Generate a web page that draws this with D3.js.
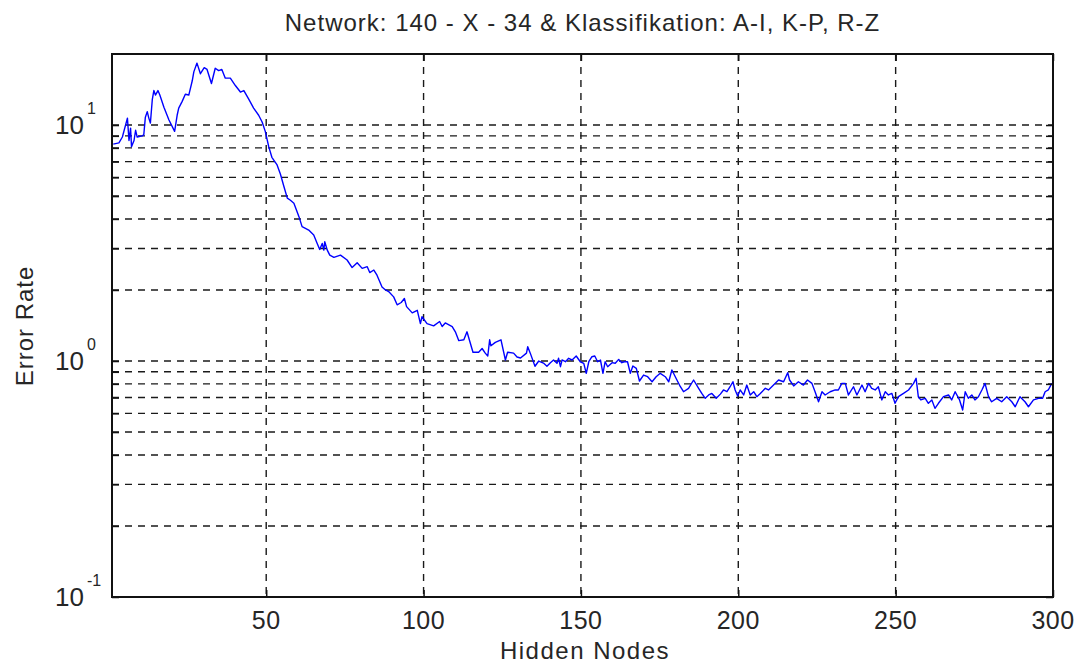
<!DOCTYPE html>
<html>
<head>
<meta charset="utf-8">
<script src="https://d3js.org/d3.v7.min.js"></script>
<style>
  html, body { margin: 0; padding: 0; background: #fff; }
  svg { display: block; }
  text { font-family: "Liberation Sans", Arial, sans-serif; fill: #262626; }
</style>
</head>
<body>
<svg id="chart" width="1078" height="665"></svg>
<script>
const titleText = "Network: 140 - X - 34 & Klassifikation: A-I, K-P, R-Z";
const xLabel = "Hidden Nodes";
const yLabel = "Error Rate";
const xTicks = [50, 100, 150, 200, 250, 300];
const xGrid = [50, 100, 150, 200, 250];
const yMajor = [0.1, 1, 10];
const yMajorExp = ["-1", "0", "1"];
const yMinor = [0.2, 0.3, 0.4, 0.5, 0.6, 0.7, 0.8, 0.9, 2, 3, 4, 5, 6, 7, 8, 9];

const nodes = [
  1.4, 3.2, 4.3, 5.9, 6.4, 6.9, 7.2, 8.0, 8.5, 9.0, 10.6, 11.1, 11.6, 12.2, 12.7, 13.2, 13.8, 14.3, 14.8, 15.6,
  16.2, 17.5, 19.1, 20.9, 21.7, 22.2, 23.3, 24.3, 25.4, 26.5, 27.0, 28.0, 29.1, 30.3, 31.2, 32.6, 33.8, 34.9, 35.9, 37.0,
  38.6, 40.2, 41.8, 42.9, 44.4, 46.0, 47.6, 48.7, 49.7, 50.8, 51.8, 53.4, 54.5, 55.6, 56.7, 57.7, 58.8, 60.4, 61.4, 63.5,
  65.1, 66.2, 67.0, 67.8, 68.3, 68.6, 69.4, 70.2, 71.5, 73.6, 75.7, 77.3, 78.9, 80.5, 82.1, 82.9, 84.2, 85.2, 86.8, 87.9,
  88.9, 90.5, 91.6, 92.9, 93.9, 94.6, 96.4, 98.0, 99.0, 99.5, 101.1, 103.2, 105.1, 105.9, 106.9, 109.1, 110.1, 111.2, 112.8, 113.8,
  114.7, 115.7, 117.5, 118.6, 119.6, 120.4, 121.0, 121.4, 122.8, 124.6, 126.0, 126.7, 128.6, 129.7, 130.8, 132.7, 133.1, 133.9, 135.4, 136.6,
  138.1, 139.2, 140.3, 141.3, 142.4, 142.9, 143.5, 144.0, 145.1, 146.1, 147.2, 148.5, 149.8, 150.9, 151.7, 152.5, 153.5, 154.4, 155.3, 156.2,
  157.0, 157.7, 158.5, 159.9, 160.9, 162.0, 163.0, 163.8, 164.8, 165.7, 166.5, 167.6, 168.6, 169.9, 171.2, 172.6, 173.9, 175.2, 176.8, 177.9,
  178.9, 180.5, 181.6, 182.6, 184.2, 185.8, 187.4, 188.4, 189.5, 190.6, 191.6, 193.0, 194.3, 195.3, 196.4, 197.4, 198.3, 199.0, 199.8, 200.6,
  201.7, 202.7, 203.8, 204.9, 205.9, 207.0, 208.6, 209.6, 211.2, 212.8, 214.4, 215.7, 216.3, 217.6, 219.1, 220.7, 222.0, 223.4, 224.4, 225.5,
  226.6, 227.6, 229.2, 230.8, 231.8, 232.9, 234.0, 235.0, 236.6, 237.7, 239.3, 240.3, 241.4, 242.4, 243.5, 244.5, 245.6, 246.7, 247.7, 248.8,
  249.8, 250.9, 252.5, 254.1, 255.7, 256.5, 257.2, 258.0, 259.4, 260.4, 261.5, 262.5, 263.6, 265.2, 266.8, 267.8, 268.9, 270.3, 271.3, 272.1,
  273.1, 274.2, 275.2, 276.3, 277.4, 278.4, 279.5, 280.5, 282.1, 283.7, 285.3, 286.9, 288.0, 289.5, 291.1, 292.2, 293.8, 295.4, 296.7, 297.5,
  298.5, 299.6
];
const errorRate = [
  8.3, 8.4, 8.9, 10.7, 8.6, 9.7, 8.1, 8.6, 9.5, 8.9, 9.0, 9.1, 10.8, 11.4, 10.7, 10.2, 12.8, 14.0, 13.4, 14.0,
  13.4, 11.9, 10.5, 9.4, 11.0, 11.8, 12.6, 13.5, 13.4, 15.4, 16.8, 18.3, 16.5, 17.5, 17.2, 15.0, 17.4, 17.0, 17.2, 15.8,
  15.8, 14.7, 13.8, 14.0, 12.9, 11.8, 11.0, 10.3, 9.4, 8.1, 7.3, 6.8, 6.2, 5.5, 4.9, 4.8, 4.66, 4.09, 3.71, 3.59,
  3.42, 3.15, 2.97, 3.15, 2.95, 3.20, 2.95, 2.81, 2.75, 2.81, 2.68, 2.49, 2.61, 2.47, 2.51, 2.37, 2.43, 2.31, 2.06, 2.00,
  1.97, 1.87, 1.73, 1.77, 1.84, 1.70, 1.60, 1.64, 1.44, 1.54, 1.44, 1.41, 1.47, 1.40, 1.45, 1.40, 1.33, 1.22, 1.23, 1.33,
  1.21, 1.09, 1.09, 1.13, 1.08, 1.05, 1.23, 1.16, 1.20, 1.23, 1.01, 1.09, 1.08, 1.04, 1.03, 1.08, 1.15, 1.08, 0.95, 1.00,
  0.98, 0.95, 0.984, 1.010, 0.978, 1.027, 0.946, 1.010, 0.993, 1.027, 1.010, 1.050, 0.993, 0.978, 0.887, 0.993, 1.043, 1.050, 0.993, 1.010,
  0.887, 0.993, 0.946, 0.984, 0.978, 1.016, 0.984, 0.993, 0.993, 0.887, 0.953, 0.931, 0.823, 0.872, 0.858, 0.817, 0.858, 0.887, 0.858, 0.817,
  0.916, 0.831, 0.778, 0.741, 0.766, 0.831, 0.766, 0.729, 0.695, 0.718, 0.729, 0.695, 0.724, 0.754, 0.741, 0.778, 0.817, 0.754, 0.711, 0.754,
  0.718, 0.791, 0.718, 0.741, 0.706, 0.729, 0.766, 0.754, 0.791, 0.831, 0.817, 0.892, 0.831, 0.784, 0.817, 0.791, 0.831, 0.804, 0.741, 0.672,
  0.741, 0.718, 0.741, 0.754, 0.754, 0.804, 0.804, 0.718, 0.778, 0.718, 0.791, 0.741, 0.804, 0.766, 0.754, 0.778, 0.684, 0.741, 0.718, 0.729,
  0.662, 0.706, 0.729, 0.754, 0.804, 0.845, 0.706, 0.684, 0.695, 0.662, 0.684, 0.630, 0.662, 0.706, 0.718, 0.684, 0.741, 0.684, 0.620, 0.741,
  0.695, 0.718, 0.684, 0.706, 0.754, 0.804, 0.706, 0.672, 0.695, 0.672, 0.706, 0.672, 0.640, 0.706, 0.672, 0.640, 0.684, 0.695, 0.695, 0.741,
  0.754, 0.804
];

const W = 1078, H = 665;
const m = { left: 112, right: 1053, top: 54, bottom: 597 };

const svg = d3.select("#chart");
svg.append("rect").attr("width", W).attr("height", H).attr("fill", "#fff");

const x = d3.scaleLinear().domain([1, 300]).range([m.left, m.right]);
const y = d3.scaleLog().domain([0.1, 20]).range([m.bottom, m.top]);

const gridStyle = sel => sel.attr("stroke", "#1a1a1a").attr("stroke-width", 1.4).attr("stroke-dasharray", "7,6");

// vertical grid
svg.append("g").selectAll("line").data(xGrid).join("line")
  .attr("x1", d => x(d)).attr("x2", d => x(d))
  .attr("y1", m.top).attr("y2", m.bottom)
  .call(gridStyle);

// horizontal grid (major + minor)
svg.append("g").selectAll("line").data(yMajor.filter(d => d > 0.1).concat(yMinor)).join("line")
  .attr("x1", m.left).attr("x2", m.right)
  .attr("y1", d => y(d)).attr("y2", d => y(d))
  .call(gridStyle);

// data line
const line = d3.line().x((d, i) => x(nodes[i])).y(d => y(d));
svg.append("path").datum(errorRate)
  .attr("d", line)
  .attr("fill", "none")
  .attr("stroke", "#0000ff")
  .attr("stroke-width", 1.4)
  .attr("stroke-linejoin", "round");

// axes (ticks inside) via d3 axes
const tickLen = 7;
svg.append("g").attr("transform", `translate(0,${m.bottom})`)
  .call(d3.axisTop(x).tickValues(xTicks).tickSize(tickLen).tickFormat(""))
  .call(g => g.select(".domain").remove());
svg.append("g").attr("transform", `translate(0,${m.top})`)
  .call(d3.axisBottom(x).tickValues(xTicks).tickSize(tickLen).tickFormat(""))
  .call(g => g.select(".domain").remove());
svg.append("g").attr("transform", `translate(${m.left},0)`)
  .call(d3.axisRight(y).tickValues(yMajor.concat(yMinor)).tickSize(tickLen).tickFormat(""))
  .call(g => g.select(".domain").remove());
svg.append("g").attr("transform", `translate(${m.right},0)`)
  .call(d3.axisLeft(y).tickValues(yMajor.concat(yMinor)).tickSize(tickLen).tickFormat(""))
  .call(g => g.select(".domain").remove());
svg.selectAll(".tick line").attr("stroke", "#111").attr("stroke-width", 1.5);

// box
svg.append("rect")
  .attr("x", m.left).attr("y", m.top)
  .attr("width", m.right - m.left).attr("height", m.bottom - m.top)
  .attr("fill", "none").attr("stroke", "#111").attr("stroke-width", 2);

// x tick labels
svg.append("g").selectAll("text").data(xTicks).join("text")
  .attr("x", d => x(d)).attr("y", 629)
  .attr("text-anchor", "middle")
  .attr("font-size", 25)
  .attr("letter-spacing", 0.5)
  .text(d => d);

// y tick labels 10^k
const yl = svg.append("g").selectAll("g").data(yMajor).join("g");
yl.append("text")
  .attr("x", 84).attr("y", d => y(d) + 9)
  .attr("text-anchor", "end")
  .attr("font-size", 26)
  .text("10");
yl.append("text")
  .attr("x", 87).attr("y", (d) => y(d) - 11)
  .attr("text-anchor", "start")
  .attr("font-size", 16)
  .text((d, i) => yMajorExp[i]);

// title
svg.append("text")
  .attr("x", (m.left + m.right) / 2).attr("y", 31)
  .attr("text-anchor", "middle")
  .attr("font-size", 24)
  .attr("letter-spacing", 1)
  .text(titleText);

// x label
svg.append("text")
  .attr("x", 585).attr("y", 659)
  .attr("text-anchor", "middle")
  .attr("font-size", 24)
  .attr("letter-spacing", 1.5)
  .text(xLabel);

// y label
svg.append("text")
  .attr("transform", `translate(33,326) rotate(-90)`)
  .attr("text-anchor", "middle")
  .attr("font-size", 24)
  .attr("letter-spacing", 1)
  .text(yLabel);
</script>
</body>
</html>
